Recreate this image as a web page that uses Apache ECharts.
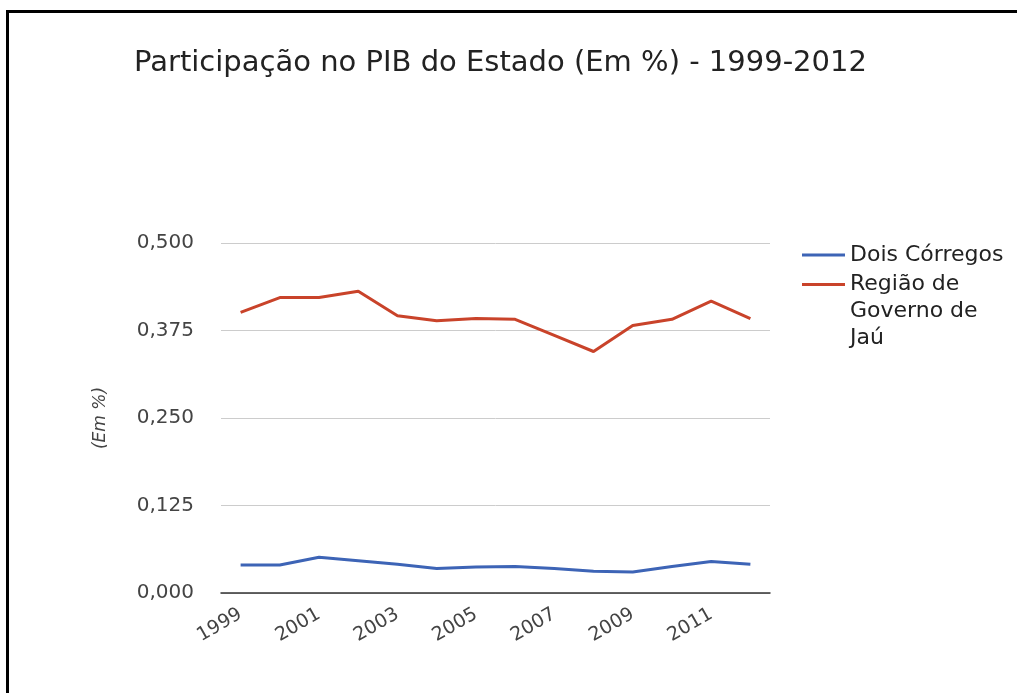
<!DOCTYPE html>
<html>
<head>
<meta charset="utf-8">
<script src="https://cdn.jsdelivr.net/npm/echarts@6/dist/echarts.min.js"></script>
<style>
  html, body { margin: 0; padding: 0; background: #fff; }
  #frame {
    position: absolute; left: 6px; top: 10px; width: 1100px; height: 800px;
    border-left: 3px solid #000; border-top: 3px solid #000; box-sizing: border-box;
  }
  #chart { position: absolute; left: 0; top: 0; width: 1017px; height: 693px; }
</style>
</head>
<body>
<div id="frame"></div>
<div id="chart"></div>
<script>
const years = ['1999', '2000', '2001', '2002', '2003', '2004', '2005', '2006', '2007', '2008', '2009', '2010', '2011', '2012']
const doisCorregos = [0.040, 0.040, 0.051, 0.046, 0.041, 0.035, 0.037, 0.038, 0.035, 0.031, 0.030, 0.038, 0.045, 0.041]
const regiaoJau = [0.401, 0.422, 0.422, 0.431, 0.396, 0.389, 0.392, 0.391, 0.368, 0.345, 0.382, 0.391, 0.417, 0.392]
const yTicks = [0, 0.125, 0.25, 0.375, 0.5]

const font = 'DejaVu Sans'
const chart = echarts.init(document.getElementById('chart'))

const option = {
  animation: false,
  color: ['#3d64b6', '#c9432a'],
  title: {
    text: 'Participação no PIB do Estado (Em %) - 1999-2012',
    left: 129,
    top: 44,
    textStyle: { fontFamily: font, fontSize: 29, fontWeight: 'normal', color: '#222' },
  },
  // legend split in two so the wrapped name keeps its line on the first row
  legend: [
    {
      data: ['Dois Córregos'],
      left: 797,
      top: 239,
      itemWidth: 43,
      itemHeight: 3,
      icon: 'rect',
      textStyle: { fontFamily: font, fontSize: 22, color: '#222' },
    },
    {
      data: ['Região de Governo de Jaú'],
      left: 797,
      top: 212,
      itemWidth: 43,
      itemHeight: 3,
      icon: 'rect',
      // two empty lines on top keep the first text line level with the icon
      formatter: (name) => '\n\n' + name.replace(' Governo', '\nGoverno').replace(' de Jaú', ' de\nJaú'),
      textStyle: { fontFamily: font, fontSize: 22, color: '#222', lineHeight: 27 },
    },
  ],
  grid: { left: 221, right: 247, top: 243, bottom: 100 },
  xAxis: {
    type: 'category',
    data: years,
    boundaryGap: true,
    axisLine: { lineStyle: { color: '#333', width: 1.5 } },
    axisTick: { show: false },
    axisLabel: {
      interval: 1,
      rotate: 30,
      margin: 20,
      fontFamily: font,
      fontSize: 19,
      color: '#444',
    },
  },
  yAxis: {
    type: 'value',
    min: yTicks[0],
    max: yTicks[yTicks.length - 1],
    interval: 0.125,
    name: '(Em %)',
    nameLocation: 'middle',
    nameGap: 112,
    nameTextStyle: { fontFamily: font, fontSize: 17, fontStyle: 'italic', color: '#444' },
    axisLine: { show: false },
    axisTick: { show: false },
    splitLine: { lineStyle: { color: '#cccccc', width: 1 } },
    axisLabel: {
      margin: 27,
      fontFamily: font,
      fontSize: 20,
      color: '#444',
      formatter: (v) => v.toFixed(3).replace('.', ','),
    },
  },
  series: [
    {
      name: 'Dois Córregos',
      type: 'line',
      data: doisCorregos,
      symbol: 'none',
      lineStyle: { width: 3 },
    },
    {
      name: 'Região de Governo de Jaú',
      type: 'line',
      data: regiaoJau,
      symbol: 'none',
      lineStyle: { width: 3 },
    },
  ],
}

chart.setOption(option)
</script>
</body>
</html>
